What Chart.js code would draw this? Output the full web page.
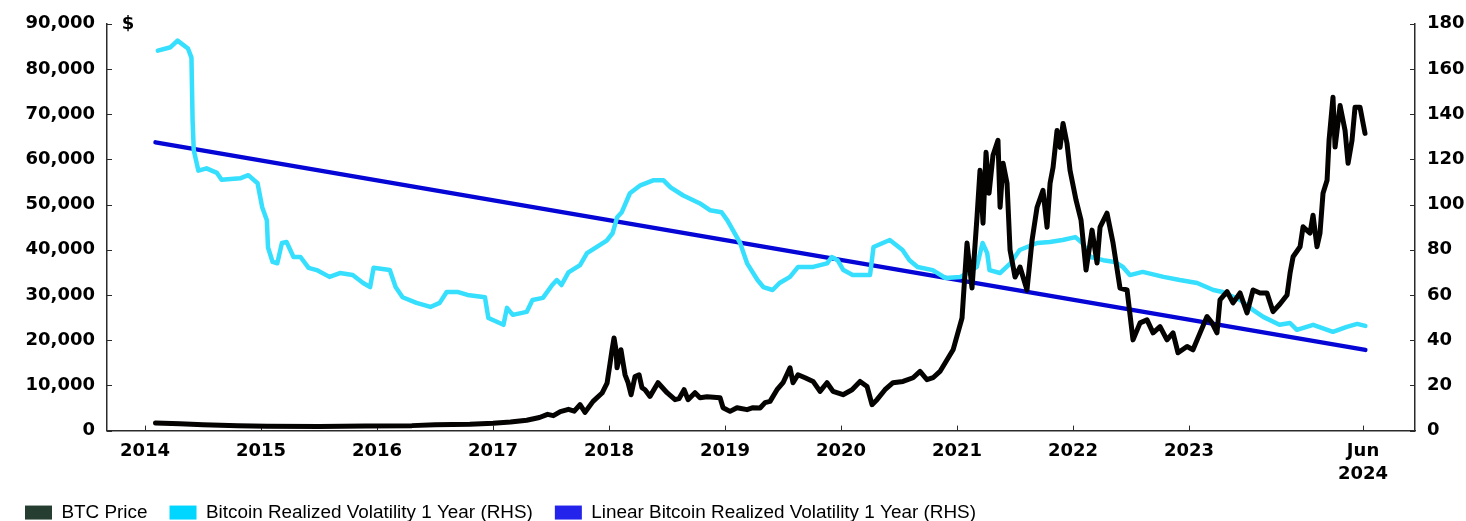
<!DOCTYPE html>
<html>
<head>
<meta charset="utf-8">
<script src="https://cdn.jsdelivr.net/npm/chart.js@4.4.0/dist/chart.umd.min.js"></script>
<style>
  html, body { margin: 0; padding: 0; background: #fff; }
  #wrap { width: 1466px; height: 521px; }
</style>
</head>
<body>
<div id="wrap"><canvas id="chart" width="1466" height="521"></canvas></div>
<script>
// x values are decimal years
const btcDates = [
  2014.09, 2014.3, 2014.5, 2014.8, 2015.05, 2015.5, 2015.9, 2016.3, 2016.5, 2016.8,
  2017.0, 2017.15, 2017.29, 2017.4, 2017.47, 2017.52, 2017.58, 2017.65, 2017.7, 2017.750,
  2017.793, 2017.862, 2017.940, 2017.983, 2018.009, 2018.026, 2018.043, 2018.060, 2018.069, 2018.103,
  2018.121, 2018.138, 2018.164, 2018.190, 2018.224, 2018.259, 2018.284, 2018.310, 2018.353, 2018.422,
  2018.500, 2018.569, 2018.603, 2018.647, 2018.681, 2018.741, 2018.784, 2018.845, 2018.957, 2018.983,
  2019.043, 2019.103, 2019.190, 2019.241, 2019.302, 2019.345, 2019.388, 2019.448, 2019.500, 2019.560,
  2019.586, 2019.629, 2019.690, 2019.759, 2019.819, 2019.879, 2019.931, 2020.017, 2020.095, 2020.164,
  2020.224, 2020.267, 2020.310, 2020.379, 2020.448, 2020.534, 2020.621, 2020.681, 2020.741, 2020.793,
  2020.853, 2020.914, 2020.966, 2021.043, 2021.086, 2021.129, 2021.172, 2021.198, 2021.224, 2021.250,
  2021.276, 2021.310, 2021.353, 2021.371, 2021.397, 2021.431, 2021.457, 2021.500, 2021.543, 2021.603,
  2021.647, 2021.690, 2021.741, 2021.776, 2021.802, 2021.828, 2021.862, 2021.888, 2021.914, 2021.948,
  2021.974, 2022.026, 2022.069, 2022.112, 2022.164, 2022.207, 2022.233, 2022.293, 2022.345, 2022.405,
  2022.466, 2022.517, 2022.578, 2022.638, 2022.690, 2022.750, 2022.810, 2022.862, 2022.905, 2022.983,
  2023.034, 2023.095, 2023.155, 2023.198, 2023.241, 2023.267, 2023.328, 2023.379, 2023.440, 2023.500,
  2023.552, 2023.612, 2023.672, 2023.724, 2023.784, 2023.845, 2023.871, 2023.897, 2023.957, 2023.983,
  2024.043, 2024.069, 2024.103, 2024.129, 2024.155, 2024.190, 2024.207, 2024.241, 2024.259, 2024.302,
  2024.345, 2024.371, 2024.405, 2024.431, 2024.474, 2024.517
];
const btcPrice = [
  1700, 1500, 1300, 1100, 950, 900, 1000, 1100, 1300, 1400,
  1600, 1900, 2300, 2900, 3600, 3300, 4200, 4700, 4300, 5740,
  4040, 6460, 8310, 10520, 14930, 17870, 20500, 17870, 13900, 17870,
  15000, 12350, 10590, 7940, 11980, 12350, 9490, 9040, 7570, 10590,
  8380, 6840, 7060, 9040, 6840, 8380, 7280, 7500, 7280, 5070,
  4260, 5070, 4630, 5070, 5000, 6180, 6460, 9040, 10590, 13900,
  10590, 12350, 11690, 10880, 8670, 10590, 8670, 7940, 9040, 10880,
  9770, 5740, 6840, 9040, 10590, 10880, 11690, 13080, 11250, 11690,
  13080, 15660, 17870, 24900, 41470, 31550, 47200, 57570, 45880, 61550,
  52500, 60880, 64190, 49410, 59120, 54710, 39930, 33970, 36180, 31100,
  42130, 49410, 53160, 45000, 54710, 58240, 66400, 62640, 67940, 63530,
  57570, 50960, 46540, 35510, 44340, 37060, 45000, 48090, 41470, 31500,
  31100, 20070, 23820, 24490, 21620, 23010, 20070, 21620, 17210, 18600,
  17870, 21620, 25220, 23820, 21620, 28900, 30730, 28240, 30440, 26030,
  31100, 30440, 30440, 26320, 28000, 30000, 34850, 38450, 40660, 45070,
  43680, 47650, 40660, 43680, 52500, 55370, 64190, 73740, 62710, 71910,
  66400, 59120, 64190, 71540, 71540, 65740
];

const volDates = [
  2014.11, 2014.22, 2014.28, 2014.37, 2014.40, 2014.41, 2014.42, 2014.46, 2014.53, 2014.62,
  2014.66, 2014.82, 2014.89, 2014.97, 2015.01, 2015.05, 2015.06, 2015.10, 2015.14, 2015.18,
  2015.22, 2015.28, 2015.34, 2015.41, 2015.48, 2015.59, 2015.68, 2015.79, 2015.88, 2015.94,
  2015.97, 2016.11, 2016.16, 2016.22, 2016.34, 2016.46, 2016.54, 2016.60, 2016.70, 2016.78,
  2016.93, 2016.96, 2017.09, 2017.12, 2017.17, 2017.29, 2017.34, 2017.43, 2017.51, 2017.55,
  2017.59, 2017.65, 2017.75, 2017.81, 2017.98, 2018.03, 2018.07, 2018.11, 2018.18, 2018.27,
  2018.38, 2018.47, 2018.53, 2018.64, 2018.78, 2018.87, 2018.97, 2019.02, 2019.13, 2019.19,
  2019.28, 2019.33, 2019.41, 2019.47, 2019.56, 2019.63, 2019.76, 2019.88, 2019.92, 2019.97,
  2020.02, 2020.10, 2020.25, 2020.28, 2020.36, 2020.42, 2020.53, 2020.59, 2020.66, 2020.79,
  2020.90, 2021.03, 2021.09, 2021.17, 2021.22, 2021.26, 2021.28, 2021.37, 2021.46, 2021.54,
  2021.69, 2021.80, 2021.91, 2022.02, 2022.08, 2022.15, 2022.26, 2022.36, 2022.43, 2022.49,
  2022.60, 2022.78, 2022.92, 2023.07, 2023.21, 2023.29, 2023.44, 2023.55, 2023.64, 2023.78,
  2023.87, 2023.93, 2024.07, 2024.24, 2024.36, 2024.45, 2024.52
];
const volValues = [
  168.1, 169.6, 172.5, 169, 165, 137, 124, 115, 116, 114,
  111, 111.6, 113, 109.4, 98.8, 93, 81, 74.6, 74, 83,
  83.4, 76.8, 76.8, 72, 71, 68, 69.7, 68.8, 65.3, 63.5,
  72, 71, 63.5, 59, 56.5, 54.7, 56.5, 61.3, 61.3, 60,
  59, 49.8, 46.8, 54.3, 51.2, 52.5, 57.8, 58.7, 64.4, 66.6,
  64.4, 70, 73.2, 78.5, 84, 87.3, 94.4, 96.6, 105, 108.5,
  110.7, 110.7, 107.6, 104, 100.6, 97.5, 96.6, 93, 83, 74,
  66.6, 63.5, 62.2, 65.3, 68, 72.4, 72.4, 74, 76.8, 75.4,
  71, 68.8, 68.8, 81.2, 83, 84.3, 79.9, 75.4, 72.4, 71,
  67.5, 68, 69.7, 72.4, 83, 78.5, 71, 69.7, 74, 79.9,
  83, 83.4, 84.3, 85.6, 83, 76.8, 75.4, 74.6, 72.4, 68.8,
  70.2, 68, 66.6, 65.3, 62.2, 61.3, 57.8, 53.4, 50.3, 46.8,
  47.6, 44.6, 46.8, 43.7, 45.9, 47.2, 46.3
];

const trendDates = [2014.09, 2024.52];
const trendValues = [127.5, 35.7];

const seriesLabels = ['BTC Price', 'Bitcoin Realized Volatility 1 Year (RHS)', 'Linear Bitcoin Realized Volatility 1 Year (RHS)'];
const lineColors = ['#050202', '#35dffd', '#0505d6'];
const legendColors = ['#263d31', '#00d6ff', '#2323ec'];

const xTickValues = [2014, 2015, 2016, 2017, 2018, 2019, 2020, 2021, 2022, 2023, 2024.5];
const xTickLabels = ['2014', '2015', '2016', '2017', '2018', '2019', '2020', '2021', '2022', '2023', ['Jun', '2024']];

const toPoints = (xs, ys) => xs.map((x, i) => ({ x, y: ys[i] }));

const tickFont = { family: '"DejaVu Sans", sans-serif', weight: 'bold', size: 18, lineHeight: 1.3 };
const axisColor = '#2b2b2b';

const innerTicks = {
  id: 'innerTicks',
  beforeDatasetsDraw (chart) {
    const { ctx, chartArea: area, scales } = chart;
    const len = 5;
    ctx.save();
    ctx.strokeStyle = axisColor;
    ctx.lineWidth = 1;
    ctx.beginPath();
    scales.x.ticks.forEach(t => {
      const px = Math.round(scales.x.getPixelForValue(t.value)) + 0.5;
      ctx.moveTo(px, area.bottom);
      ctx.lineTo(px, area.bottom - len);
    });
    scales.y.ticks.forEach(t => {
      const py = Math.round(scales.y.getPixelForValue(t.value)) + 0.5;
      ctx.moveTo(area.left, py);
      ctx.lineTo(area.left + len, py);
    });
    scales.y1.ticks.forEach(t => {
      const py = Math.round(scales.y1.getPixelForValue(t.value)) + 0.5;
      ctx.moveTo(area.right, py);
      ctx.lineTo(area.right - len, py);
    });
    ctx.stroke();
    ctx.font = 'bold 18px "DejaVu Sans"';
    ctx.fillStyle = '#000';
    ctx.textAlign = 'center';
    ctx.textBaseline = 'middle';
    ctx.fillText('$', area.left + 21, area.top + 1);
    ctx.restore();
  }
};

new Chart(document.getElementById('chart'), {
  type: 'line',
  data: {
    datasets: [
      {
        label: seriesLabels[0],
        data: toPoints(btcDates, btcPrice),
        yAxisID: 'y',
        borderColor: lineColors[0],
        borderWidth: 5,
      },
      {
        label: seriesLabels[1],
        data: toPoints(volDates, volValues),
        yAxisID: 'y1',
        borderColor: lineColors[1],
        borderWidth: 4.5,
      },
      {
        label: seriesLabels[2],
        data: toPoints(trendDates, trendValues),
        yAxisID: 'y1',
        borderColor: lineColors[2],
        borderWidth: 4.5,
      },
    ],
  },
  options: {
    responsive: false,
    animation: false,
    devicePixelRatio: 1,
    parsing: false,
    elements: {
      point: { radius: 0 },
      line: { tension: 0, borderJoinStyle: 'round', borderCapStyle: 'round', fill: false },
    },
    layout: { padding: { top: 23, left: 3, right: 0, bottom: -11 } },
    plugins: {
      tooltip: { enabled: false },
      legend: {
        position: 'bottom',
        align: 'start',
        labels: {
          boxWidth: 27,
          boxHeight: 14,
          padding: 22,
          color: '#3d5349',
          font: { family: '"Liberation Sans", Arial, sans-serif', size: 18.9 },
          generateLabels: chart => chart.data.datasets.map((ds, i) => ({
            text: ds.label,
            fillStyle: legendColors[i],
            strokeStyle: legendColors[i],
            lineWidth: 0,
            hidden: false,
            datasetIndex: i,
          })),
        },
      },
    },
    scales: {
      x: {
        type: 'linear',
        min: 2013.672,
        max: 2024.948,
        afterBuildTicks: scale => { scale.ticks = xTickValues.map(v => ({ value: v })); },
        afterFit: scale => { scale.height = 50.5; },
        grid: { display: false, drawTicks: false },
        border: { display: true, color: axisColor, width: 1.5 },
        ticks: {
          autoSkip: false,
          maxRotation: 0,
          padding: 9,
          color: '#000',
          font: tickFont,
          callback: (value, index) => xTickLabels[index],
        },
      },
      y: {
        position: 'left',
        min: 0,
        max: 90000,
        afterFit: scale => { scale.width = 104; },
        grid: { display: false, drawTicks: false },
        border: { display: true, color: axisColor, width: 1.5 },
        ticks: {
          stepSize: 10000,
          padding: 12,
          color: '#000',
          font: tickFont,
          callback: value => value.toLocaleString('en-US'),
        },
      },
      y1: {
        position: 'right',
        min: 0,
        max: 180,
        afterFit: scale => { scale.width = 51; },
        grid: { display: false, drawTicks: false },
        border: { display: true, color: axisColor, width: 1.5 },
        ticks: {
          stepSize: 20,
          padding: 12,
          color: '#000',
          font: tickFont,
        },
      },
    },
  },
  plugins: [innerTicks],
});
</script>
</body>
</html>
